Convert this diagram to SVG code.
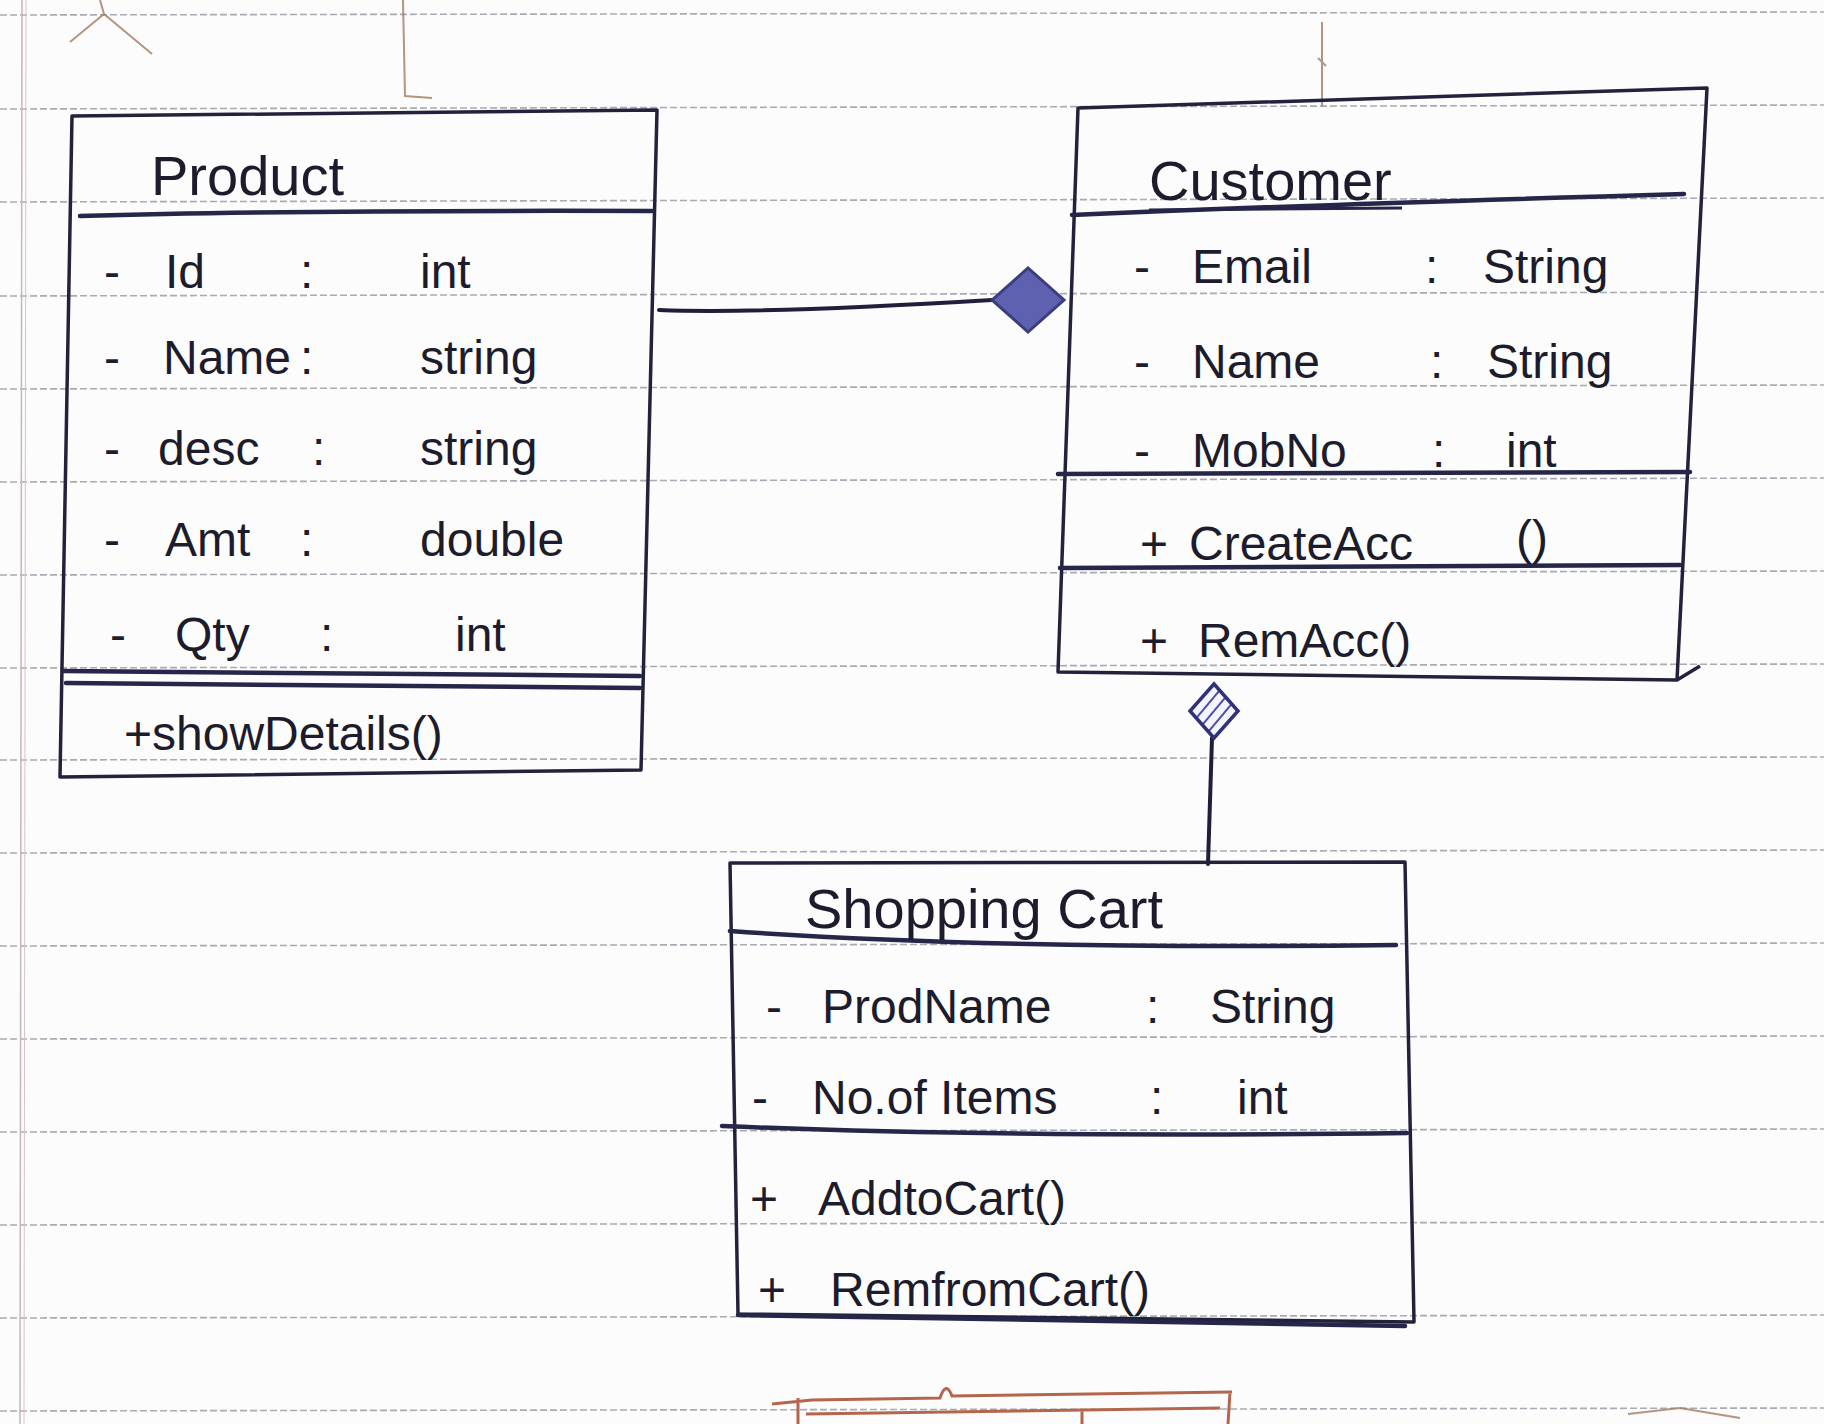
<svg xmlns="http://www.w3.org/2000/svg" width="1824" height="1424" viewBox="0 0 1824 1424">
  <defs>
    <pattern id="hatch" patternUnits="userSpaceOnUse" width="9" height="9" patternTransform="rotate(40)">
      <rect width="9" height="9" fill="#f4f4ff"/>
      <line x1="0" y1="0" x2="0" y2="9" stroke="#4a4fa8" stroke-width="4"/>
    </pattern>
    <style>
      .rule { stroke:#8e8f99; stroke-width:1.6; stroke-dasharray:7 3; fill:none; opacity:0.75; }
      .pencil { stroke:#a07a60; stroke-width:2; fill:none; opacity:0.8; }
      .brown { stroke:#b4664c; stroke-width:3; fill:none; }
      .box { fill:none; stroke:#22223c; stroke-width:3.5; stroke-linejoin:round; }
      .div { fill:none; stroke:#26264a; stroke-width:4.5; stroke-linecap:round; }
      .t { font-family:"Liberation Sans", Arial, sans-serif; font-size:48px; fill:#1c1c2c; }
      .title { font-family:"Liberation Sans", Arial, sans-serif; font-size:56px; fill:#1c1c2c; }
      .link { fill:none; stroke:#1f1f3c; stroke-width:4; stroke-linecap:round; }
    </style>
  </defs>

  <rect width="1824" height="1424" fill="#fcfcfd"/>

  <g id="paper">
    <line class="rule" x1="0" y1="15" x2="1824" y2="12"/>
    <line class="rule" x1="0" y1="109" x2="1824" y2="105"/>
    <line class="rule" x1="0" y1="202" x2="1824" y2="198"/>
    <line class="rule" x1="0" y1="296" x2="1824" y2="292"/>
    <line class="rule" x1="0" y1="389" x2="1824" y2="385"/>
    <line class="rule" x1="0" y1="482" x2="1824" y2="478"/>
    <line class="rule" x1="0" y1="575" x2="1824" y2="571"/>
    <line class="rule" x1="0" y1="668" x2="1824" y2="664"/>
    <line class="rule" x1="0" y1="760" x2="1824" y2="757"/>
    <line class="rule" x1="0" y1="853" x2="1824" y2="850"/>
    <line class="rule" x1="0" y1="946" x2="1824" y2="943"/>
    <line class="rule" x1="0" y1="1039" x2="1824" y2="1036"/>
    <line class="rule" x1="0" y1="1132" x2="1824" y2="1129"/>
    <line class="rule" x1="0" y1="1225" x2="1824" y2="1222"/>
    <line class="rule" x1="0" y1="1318" x2="1824" y2="1315"/>
    <line class="rule" x1="0" y1="1411" x2="1824" y2="1408"/>
    <line x1="22" y1="0" x2="20" y2="1424" stroke="#c8b4bc" stroke-width="1.5"/>
    <line x1="26" y1="0" x2="24" y2="1424" stroke="#d4c4ca" stroke-width="1"/>
    <path class="pencil" d="M100,0 L104,14 M104,14 L70,42 M104,14 L152,54"/>
    <path class="pencil" d="M403,0 L405,96 L432,98"/>
    <path class="pencil" d="M1322,22 L1322,106 M1318,58 L1326,66"/>
    <path class="brown" d="M772,1404 L812,1400 L940,1398 Q946,1380 952,1396 L1232,1392 M798,1398 L798,1424 M1230,1392 L1228,1424 M806,1414 L1220,1408 M1082,1410 L1082,1424"/>
    <path class="pencil" d="M1628,1414 L1680,1408 L1740,1418"/>
  </g>

  <g id="connectors">
    <path class="link" d="M659,310 Q760,314 992,300"/>
    <polygon points="992,300 1028,268 1064,300 1028,332" fill="#5d61b0" stroke="#3a3d7e" stroke-width="3"/>
    <path class="link" d="M1208,864 L1212,738"/>
    <polygon points="1214,684 1238,711 1214,738 1190,711" fill="url(#hatch)" stroke="#2f3278" stroke-width="3.5"/>
  </g>

  <g id="product">
    <path class="box" d="M72,116 L657,110 L641,770 L60,777 Z"/>
    <path class="div" d="M80,216 Q300,210 652,211"/>
    <path class="div" d="M64,671 L640,676"/>
    <path class="div" d="M66,683 L640,688" stroke-width="3"/>
    <text class="title" x="151" y="195">Product</text>
    <text class="t" x="104" y="288">-</text><text class="t" x="165" y="288">Id</text><text class="t" x="300" y="288">:</text><text class="t" x="420" y="288">int</text>
    <text class="t" x="104" y="374">-</text><text class="t" x="163" y="374">Name</text><text class="t" x="300" y="374">:</text><text class="t" x="420" y="374">string</text>
    <text class="t" x="104" y="465">-</text><text class="t" x="158" y="465">desc</text><text class="t" x="312" y="465">:</text><text class="t" x="420" y="465">string</text>
    <text class="t" x="104" y="556">-</text><text class="t" x="165" y="556">Amt</text><text class="t" x="300" y="556">:</text><text class="t" x="420" y="556">double</text>
    <text class="t" x="110" y="651">-</text><text class="t" x="175" y="651">Qty</text><text class="t" x="320" y="651">:</text><text class="t" x="455" y="651">int</text>
    <text class="t" x="124" y="750">+</text><text class="t" x="152" y="750">showDetails()</text>
  </g>

  <g id="customer">
    <path class="box" d="M1078,108 L1707,88 L1677,680 L1058,672 Z"/>
    <path class="div" d="M1072,215 Q1300,205 1684,194"/>
    <path class="div" d="M1058,474 L1690,472"/>
    <path class="div" d="M1060,568 L1680,565"/>
    <path class="box" d="M1677,680 L1700,666"/>
    <text class="title" x="1149" y="200" fill="#25254a">Customer</text>
    <line x1="1149" y1="210" x2="1402" y2="208" stroke="#25254a" stroke-width="3"/>
    <text class="t" x="1134" y="283">-</text><text class="t" x="1192" y="283">Email</text><text class="t" x="1425" y="283">:</text><text class="t" x="1483" y="283">String</text>
    <text class="t" x="1134" y="378">-</text><text class="t" x="1192" y="378">Name</text><text class="t" x="1430" y="378">:</text><text class="t" x="1487" y="378">String</text>
    <text class="t" x="1134" y="467">-</text><text class="t" x="1192" y="467">MobNo</text><text class="t" x="1432" y="467">:</text><text class="t" x="1506" y="467">int</text>
    <text class="t" x="1140" y="560">+</text><text class="t" x="1189" y="560">CreateAcc</text><text class="t" x="1516" y="554">()</text>
    <text class="t" x="1140" y="657">+</text><text class="t" x="1198" y="657">RemAcc()</text>
  </g>

  <g id="shopping-cart">
    <path class="box" d="M730,863 L1405,862 L1414,1322 L738,1314 Z"/>
    <path class="div" d="M730,931 Q1000,950 1396,945"/>
    <path class="div" d="M722,1126 Q1000,1138 1407,1133"/>
    <path class="div" d="M738,1315 Q1100,1322 1405,1326"/>
    <text class="title" x="805" y="928" font-size="50">Shopping Cart</text>
    <text class="t" x="766" y="1023">-</text><text class="t" x="822" y="1023">ProdName</text><text class="t" x="1146" y="1023">:</text><text class="t" x="1210" y="1023">String</text>
    <text class="t" x="752" y="1114">-</text><text class="t" x="812" y="1114">No.of Items</text><text class="t" x="1150" y="1114">:</text><text class="t" x="1237" y="1114">int</text>
    <text class="t" x="750" y="1215">+</text><text class="t" x="818" y="1215">AddtoCart()</text>
    <text class="t" x="758" y="1306">+</text><text class="t" x="830" y="1306">RemfromCart()</text>
  </g>
</svg>
